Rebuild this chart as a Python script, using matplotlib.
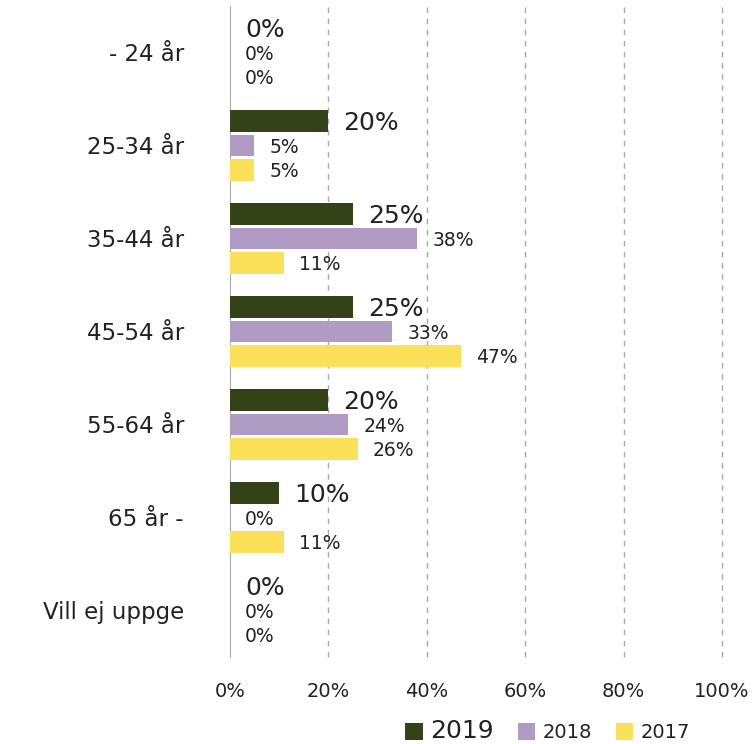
import numpy as np
import matplotlib
matplotlib.use('Agg')
import matplotlib.pyplot as plt
from matplotlib.ticker import PercentFormatter

categories = ['- 24 år', '25-34 år', '35-44 år', '45-54 år', '55-64 år', '65 år -', 'Vill ej uppge']
v2019 = [0, 20, 25, 25, 20, 10, 0]
v2018 = [0, 5, 38, 33, 24, 0, 0]
v2017 = [0, 5, 11, 47, 26, 11, 0]
years = ['2019', '2018', '2017']
colors = ['#344317', '#B09BC4', '#FBE15A']


def graph_data():
    plt.rcParams['font.family'] = ['DejaVu Sans']
    fig = plt.figure(figsize=(7.56, 7.44), dpi=100)
    ax = fig.add_axes([0.304, 0.117, 0.651, 0.875])

    y = np.arange(len(categories))
    h = 0.235
    series = [v2019, v2018, v2017]
    offsets = [-0.26, 0, 0.26]
    label_sizes = [18, 13.5, 13.5]

    for vals, off, col, yr, fs in zip(series, offsets, colors, years, label_sizes):
        bars = ax.barh(y + off, vals, height=h, color=col, label=yr, zorder=3)
        for b, v in zip(bars, vals):
            ax.annotate(f'{v}%', (v, b.get_y() + b.get_height() / 2 + 0.02),
                        xytext=(11, 0), textcoords='offset points',
                        va='center', ha='left', fontsize=fs, color='#222222')

    ax.set_xlim(0, 100)
    ax.set_ylim(len(categories) - 0.5, -0.5)
    ax.set_xticks(range(0, 101, 20))
    ax.xaxis.set_major_formatter(PercentFormatter(decimals=0))
    ax.set_yticks(y)
    ax.set_yticklabels(categories, fontsize=16.5, color='#222222')
    ax.tick_params(axis='x', length=0, labelsize=14, pad=18, colors='#222222')
    ax.tick_params(axis='y', length=0, pad=33)
    for x in range(20, 101, 20):
        ax.axvline(x, linestyle=(0, (4, 4)), color='#AAAAAA', linewidth=1,
                   zorder=0, clip_on=False)
    for s in ['top', 'right', 'bottom']:
        ax.spines[s].set_visible(False)
    ax.spines['left'].set_color('#AAAAAA')

    leg = ax.legend(loc='center', bbox_to_anchor=(0.646, -0.114), ncol=3,
                    frameon=False, handlelength=0.9, handleheight=0.9,
                    handletextpad=0.4, columnspacing=1.2, fontsize=14,
                    borderpad=0)
    for t, fs in zip(leg.get_texts(), [18, 14, 14]):
        t.set_fontsize(fs)
        t.set_color('#222222')

    fig.savefig('out.png', dpi=100)


def main():
    graph_data()


if __name__ == '__main__':
    main()
